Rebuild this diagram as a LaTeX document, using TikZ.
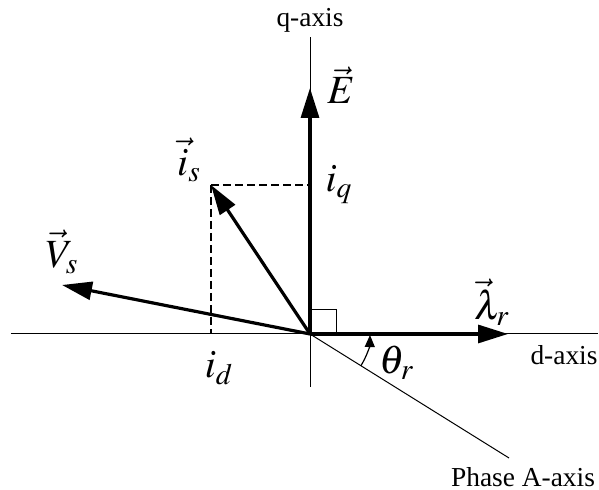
\documentclass[tikz,border=0pt]{standalone}
\usepackage{mathptmx}
\usepackage{fontspec}
\setmainfont{Liberation Serif}
\usetikzlibrary{arrows.meta,calc}

\begin{document}
\begin{tikzpicture}[x=0.5pt, y=0.5pt,
    axisline/.style={line width=0.5pt, black},
    vecline/.style={line width=1.6pt, -{Triangle[length=15pt, width=9pt]}},
    projline/.style={line width=0.8pt, dash pattern=on 4pt off 2pt},
    axislabel/.style={font=\fontsize{13.7}{16}\selectfont, inner sep=0pt},
    veclabel/.style={font=\fontsize{20}{24}\selectfont, inner sep=0pt}]
    \useasboundingbox (-310,-156) rectangle (289,334);
    % frame
    \coordinate (O) at (0,0);
    \coordinate (dleft) at (-299,0);
    \coordinate (dright) at (288,0);
    \coordinate (qtop) at (0,297);
    \coordinate (qbot) at (0,-53);
    \coordinate (phaseA) at (199,-124);
    \draw[axisline] (dleft) -- (dright);
    \draw[axisline] (qbot) -- (qtop);
    \draw[axisline] (O) -- (phaseA);
    \draw[line width=0.5pt] (O) rectangle (26,24);
    % vectors
    \coordinate (E) at (0,246);
    \coordinate (is) at (-99,149);
    \coordinate (Vs) at (-248,49);
    \coordinate (lam) at (198,0);
    \draw[projline] (is) -- (is |- O);
    \draw[projline] (is) -- (is -| O);
    \draw[vecline] (O) -- (E);
    \draw[vecline] (O) -- (is);
    \draw[vecline] (O) -- (Vs);
    \draw[vecline] (O) -- (lam);
    % angle
    \draw[line width=0.6pt, -{Triangle[length=6pt, width=5pt]}]
        ($(O)+(-31.9:30pt)$) arc[start angle=-31.9, end angle=-1, radius=30pt];
    % labels
    \node[axislabel] (qlab) at (0,314) {q-axis};
    \node[axislabel] (dlab) at (254,-21) {d-axis};
    \node[axislabel] (phlab) at (213,-143) {Phase A-axis};
    \node[veclabel] (Elab) at (31,249) {$\vec{E}$};
    \node[veclabel] (islab) at (-121,174) {$\vec{i}_s$};
    \node[veclabel] (iqlab) at (29,149) {$i_q$};
    \node[veclabel] (Vslab) at (-248,82) {$\vec{V}_s$};
    \node[veclabel] (lamlab) at (182,32) {$\vec{\lambda}_r$};
    \node[veclabel] (idlab) at (-91,-34) {$i_d$};
    \node[veclabel] (thlab) at (87,-29) {$\theta_r$};
\end{tikzpicture}
\end{document}
